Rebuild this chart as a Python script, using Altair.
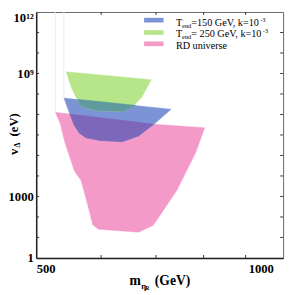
import altair as alt
import pandas as pd

# ---------------- data (m in GeV, v_Delta in eV) ----------------
rd_m = [527.6, 684.7, 802.3, 783.1, 742.2, 703.3, 694.0, 666.5, 595.4, 585.9, 579.6, 567.3, 556.7, 541.9, 534.8]
rd_v = [1.27e7, 3.5e6, 2.28e6, 1.46e5, 2.0e3, 81, 38, 18, 25, 42, 235, 5.85e3, 1.71e4, 4.24e5, 3.6e6]

t150_m = [540.5, 730.3, 697.7, 666.5, 636.8, 598.6, 575.0, 564.3, 556.7, 549.3]
t150_v = [6.3e7, 1.8e7, 3.6e6, 9.0e5, 4.7e5, 5.3e5, 7.25e5, 1.24e6, 2.9e6, 1.05e7]

t250_m = [543.9, 690.8, 671.9, 654.1, 636.8, 593.8, 575.0, 564.3, 559.7, 552.3]
t250_v = [1.21e9, 5.0e8, 6.5e7, 2.2e7, 1.4e7, 1.5e7, 2.0e7, 3.1e7, 6.5e7, 1.9e8]

# overlap regions
ov_rd150_m = [549.3, 695.8, 666.5, 636.8, 598.6, 575.0, 564.3, 556.7]
ov_rd150_v = [1.05e7, 3.4e6, 9.0e5, 4.7e5, 5.3e5, 7.25e5, 1.24e6, 2.9e6]

ov_150_250_m = [561.2, 661.2, 654.1, 636.8, 593.8, 575.0, 564.3]
ov_150_250_v = [5.5e7, 2.8e7, 2.2e7, 1.4e7, 1.5e7, 2.0e7, 3.1e7]

# thin vertical spikes of the regions
spike_m = [527.6, 540.5]
spike_lo = [1.27e7, 6.3e7]
spike_hi = [1e12, 1e12]
spike_col = ["#fbe4ef", "#e6ebf8"]

# ticks
x_minor = [600, 700, 800, 900]
y_minor = [1e1, 1e2, 1e3, 1e4, 1e5, 1e6, 1e7, 1e8, 1e9, 1e10, 1e11]
x_labels = [500, 1000]
y_labels = [1, 1e3, 1e9, 1e12]

legend_labels = ["=150 GeV, k=10", "= 250 GeV, k=10", "RD universe"]

PINK, BLUE, GREEN = "#f49ac8", "#7c94d6", "#b6e58a"
PURPLE, TEAL = "#7d67ba", "#5f9a9f"

OX, OY = 37, 8          # page position of the plot area
W, H = 254, 253
SERIF = "Liberation Serif"

xs = alt.Scale(type="log", domain=[500, 1000], nice=False)
ys = alt.Scale(type="log", domain=[1, 1e12], nice=False)

xaxis = alt.Axis(values=x_labels, format="d", title=None, ticks=False, grid=False,
                 domainColor="#222", domainWidth=1.5,
                 labelFont=SERIF, labelFontWeight="bold", labelFontSize=13, labelColor="black",
                 labelPadding=5,
                 labelOffset={"condition": {"test": "datum.value >= 1000", "value": -10}, "value": 0})
yaxis = alt.Axis(values=y_labels, title=None, ticks=False, grid=False,
                 domainColor="#222", domainWidth=1.5,
                 labelFont=SERIF, labelFontWeight="bold", labelFontSize=13, labelColor="black",
                 labelPadding=3,
                 labelExpr="datum.value == 1 ? '1' : datum.value == 1000 ? '1000' : datum.value == 1e9 ? '10⁹' : '10¹²'",
                 labelBaseline={"condition": {"test": "datum.value >= 1e12", "value": "top"}, "value": "middle"})

X = alt.X("m:Q", scale=xs, axis=xaxis)
Y = alt.Y("v:Q", scale=ys, axis=yaxis)


def poly(ms, vs, color):
    df = pd.DataFrame({"m": ms, "v": vs, "i": list(range(len(ms)))})
    return alt.Chart(df).mark_line(fill=color, stroke=color, strokeWidth=0.4,
                                   interpolate="linear-closed").encode(x=X, y=Y, order="i:Q")


def text(t, px, py, size, weight="normal", angle=0, align="left"):
    # px, py: page pixel position of the text anchor
    return alt.Chart(pd.DataFrame({"a": [0]})).mark_text(
        text=t, font=SERIF, fontSize=size, fontWeight=weight, angle=angle,
        align=align, baseline="alphabetic", color="black").encode(
        x=alt.value(px - OX), y=alt.value(py - OY))


layers = [
    poly(rd_m, rd_v, PINK),
    poly(t150_m, t150_v, BLUE),
    poly(ov_rd150_m, ov_rd150_v, PURPLE),
    poly(t250_m, t250_v, GREEN),
    poly(ov_150_250_m, ov_150_250_v, TEAL),
]

spikes = pd.DataFrame({"m": spike_m, "v": spike_lo, "v2": spike_hi, "c": spike_col})
layers.append(alt.Chart(spikes).mark_rule(strokeWidth=1).encode(
    x=X, y=Y, y2="v2:Q", color=alt.Color("c:N", scale=None)))

# tick marks (inward) on all four sides
dfx = pd.DataFrame({"m": x_minor})
dfy = pd.DataFrame({"v": y_minor})
tick_col = "#333"
layers.append(alt.Chart(dfx).mark_rule(color=tick_col).encode(x=X, y=alt.value(H), y2=alt.value(H - 3)))
layers.append(alt.Chart(dfx).mark_rule(color=tick_col).encode(x=X, y=alt.value(0), y2=alt.value(3)))
layers.append(alt.Chart(dfy).mark_rule(color=tick_col).encode(y=Y, x=alt.value(0), x2=alt.value(3)))
layers.append(alt.Chart(dfy).mark_rule(color=tick_col).encode(y=Y, x=alt.value(W), x2=alt.value(W - 3)))

# legend
for (y0, col) in [(14, BLUE), (26.7, GREEN), (38.3, PINK)]:
    layers.append(alt.Chart(pd.DataFrame({"a": [0]})).mark_rect(color=col).encode(
        x=alt.value(148 - OX), x2=alt.value(168 - OX), y=alt.value(y0 - OY), y2=alt.value(y0 + 4.8 - OY)))

layers += [
    text("T", 180.7, 22, 10.5), text("end", 187.1, 24, 6.5),
    text(legend_labels[0], 196.5, 22, 10.5), text("-3", 267.5, 18, 6.5),
    text("T", 180.7, 34, 10.5), text("end", 187.1, 36, 6.5),
    text(legend_labels[1], 196.5, 34, 10.5), text("-3", 270.1, 30, 6.5),
    text(legend_labels[2], 180.7, 46, 10.5),
]

# axis titles
layers += [
    text("m", 133, 289, 14, "bold"),
    text("η", 145, 292.5, 9, "bold"),
    text("R", 149.5, 294, 5.5, "bold"),
    text("(GeV)", 159, 289, 14, "bold"),
    text("v", 18, 155, 13, "bold", angle=270),
    text("Δ", 20.5, 147.5, 8, "bold", angle=270),
    text("(eV)", 18, 136, 13, "bold", angle=270),
]

chart = alt.layer(*layers).properties(
    width=W, height=H,
    autosize=alt.AutoSizeParams(type="none"),
    padding={"left": OX - 8, "top": OY - 8, "right": 295 - 8 - (OX - 8) - W, "bottom": 295 - 8 - (OY - 8) - H},
).configure_view(stroke="#666", strokeWidth=1)

chart.save("out.html", embed_options={"renderer": "svg", "actions": False})
